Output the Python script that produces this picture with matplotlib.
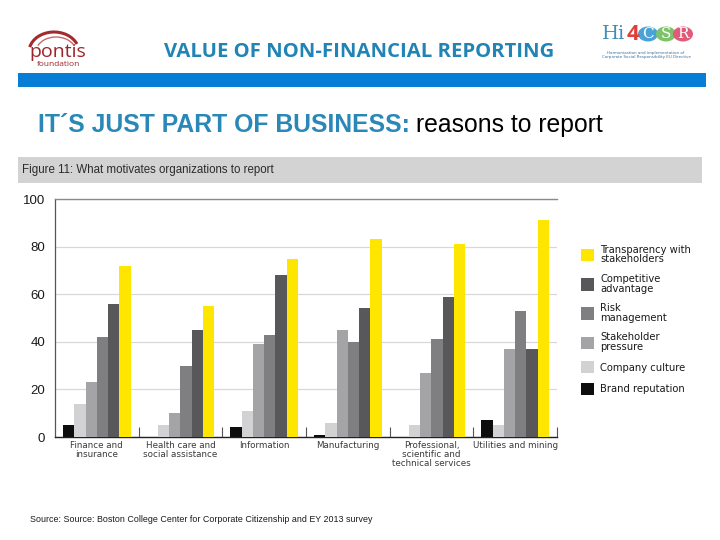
import matplotlib
matplotlib.use("Agg")
import matplotlib.pyplot as plt
from matplotlib.patches import Rectangle, Circle, Arc
import numpy as np

# ---------------------------------------------------------------------------
# Data
# ---------------------------------------------------------------------------

categories = [
    "Finance and\ninsurance",
    "Health care and\nsocial assistance",
    "Information",
    "Manufacturing",
    "Professional,\nscientific and\ntechnical services",
    "Utilities and mining",
]
series_names = [
    "Brand reputation",
    "Company culture",
    "Stakeholder\npressure",
    "Risk\nmanagement",
    "Competitive\nadvantage",
    "Transparency with\nstakeholders",
]
brand_reputation = [5, 0, 4, 1, 0, 7]
company_culture = [14, 5, 11, 6, 5, 5]
stakeholder_pressure = [23, 10, 39, 45, 27, 37]
risk_management = [42, 30, 43, 40, 41, 53]
competitive_advantage = [56, 45, 68, 54, 59, 37]
transparency = [72, 55, 75, 83, 81, 91]
y_ticks = [0, 20, 40, 60, 80, 100]

COLORS = ["#0d0d0d", "#d2d2d4", "#a4a4a6", "#7f7f82", "#58585b", "#ffe600"]

# ---------------------------------------------------------------------------
# Figure
# ---------------------------------------------------------------------------

fig = plt.figure(figsize=(7.2, 5.4), dpi=100)
fig.patch.set_facecolor("white")

# header: logos, title, blue band
fig.add_artist(Rectangle((18 / 720, 1 - 87 / 540), 688 / 720, 14 / 540,
                         transform=fig.transFigure, facecolor="#087dd6",
                         edgecolor="none"))
fig.text(359 / 720, 1 - 52 / 540, "VALUE OF NON-FINANCIAL REPORTING",
         ha="center", va="center", fontsize=14.6, fontweight="bold",
         color="#2184b5", family="Open Sans")

# pontis logo
fig.add_artist(Arc((54 / 720, 1 - 52 / 540), 50 / 720, 40 / 540,
                   theta1=25, theta2=165, transform=fig.transFigure,
                   color="#a32a2c", linewidth=2.2))
fig.add_artist(Arc((56 / 720, 1 - 52 / 540), 40 / 720, 30 / 540,
                   theta1=30, theta2=155, transform=fig.transFigure,
                   color="#c9686a", linewidth=1))
fig.text(29 / 720, 1 - 52 / 540, "pontis", ha="left", va="center",
         fontsize=14, color="#9c2528", family="Open Sans")
fig.text(37 / 720, 1 - 65 / 540, "foundation", ha="left", va="center",
         fontsize=6, color="#9c2528", family="Open Sans")

# Hi4CSR logo
fig.text(602 / 720, 1 - 34 / 540, "Hi", ha="left", va="center",
         fontsize=14, color="#3a8fb5", family="DejaVu Serif")
fig.text(627 / 720, 1 - 34 / 540, "4", ha="left", va="center",
         fontsize=16, color="#e0403a", fontweight="bold", family="Open Sans")
for cx, col, letter in [(648, "#4aa3d8", "C"), (666, "#7cc36a", "S"),
                        (683, "#e05a7a", "R")]:
    fig.add_artist(Circle((cx / 720, 1 - 34 / 540), 10 / 720,
                          transform=fig.transFigure, facecolor=col,
                          edgecolor="none"))
    fig.text(cx / 720, 1 - 34 / 540, letter, ha="center", va="center",
             fontsize=11, color="white", family="DejaVu Serif")
fig.text(646 / 720, 1 - 55 / 540, "Harmonization and implementation of\n"
         "Corporate Social Responsibility EU Directive",
         ha="center", va="center", fontsize=2.9, color="#3a6f9a",
         linespacing=1.3)

# subtitle
sub1 = fig.text(38 / 720, 1 - 125 / 540, "IT\u00b4S JUST PART OF BUSINESS:",
                ha="left", va="center", fontsize=17.8, fontweight="bold",
                color="#2a88b8", family="Liberation Sans")
fig.canvas.draw()
bb = sub1.get_window_extent()
fig.text(bb.x1 / 720 + 6 / 720, 1 - 125 / 540, "reasons to report",
         ha="left", va="center", fontsize=17.8, color="black",
         family="Liberation Sans")

# figure caption band
fig.add_artist(Rectangle((18 / 720, 1 - 183 / 540), 684 / 720, 26 / 540,
                         transform=fig.transFigure, facecolor="#d3d3d3",
                         edgecolor="none"))
fig.text(22 / 720, 1 - 170 / 540,
         "Figure 11: What motivates organizations to report",
         ha="left", va="center", fontsize=8.3, color="#2b2b2b",
         family="Liberation Sans")

# ---------------------------------------------------------------------------
# Bar chart
# ---------------------------------------------------------------------------

ax = fig.add_axes([55 / 720, 1 - 437 / 540, 502 / 720, 238 / 540])
all_series = [brand_reputation, company_culture, stakeholder_pressure,
              risk_management, competitive_advantage, transparency]
x = np.arange(len(categories))
bar_w = 0.135
for i, (vals, name, col) in enumerate(zip(all_series, series_names, COLORS)):
    offset = (i - 2.5) * bar_w
    ax.bar(x + offset, vals, width=bar_w, color=col, label=name,
           edgecolor="none", zorder=3)

ax.set_xlim(-0.5, len(categories) - 0.5)
ax.set_ylim(0, 100)
ax.set_yticks(y_ticks)
ax.set_yticklabels([str(v) for v in y_ticks], fontsize=9.5,
                   family="Liberation Sans", color="#1a1a1a")
ax.set_xticks(x)
ax.set_xticklabels(categories, fontsize=6.3, color="#3a3a3a",
                   family="Liberation Sans Narrow", linespacing=1.0,
                   va="top")
ax.set_xticks(np.arange(0.5, len(categories), 1.0), minor=True)
ax.tick_params(axis="x", which="major", length=0, pad=3)
ax.tick_params(axis="x", which="minor", direction="in", length=7,
               width=0.8, color="#555555")
ax.tick_params(axis="y", length=0, pad=7)

ax.yaxis.grid(True, color="#d8d8d8", linewidth=0.9, zorder=0)
ax.set_axisbelow(True)
ax.spines["right"].set_visible(False)
ax.spines["top"].set_color("#8a8a8a")
ax.spines["top"].set_linewidth(1.0)
ax.spines["left"].set_color("#555555")
ax.spines["left"].set_linewidth(0.9)
ax.spines["bottom"].set_color("#222222")
ax.spines["bottom"].set_linewidth(1.0)

handles, labels = ax.get_legend_handles_labels()
leg = ax.legend(handles[::-1], labels[::-1], loc="upper left",
                bbox_to_anchor=(1.03, 0.845), frameon=False,
                handlelength=1.3, handleheight=1.5,
                handletextpad=0.6, labelspacing=0.95,
                prop={"family": "DejaVu Sans", "size": 7.2})
for t in leg.get_texts():
    t.set_linespacing(0.95)
    t.set_color("#1a1a1a")

fig.text(30 / 720, 1 - 520 / 540,
         "Source: Source: Boston College Center for Corporate Citizenship and EY 2013 survey",
         ha="left", va="center", fontsize=6.4, color="#1a1a1a",
         family="Liberation Sans")

fig.savefig("out.png", dpi=100)
